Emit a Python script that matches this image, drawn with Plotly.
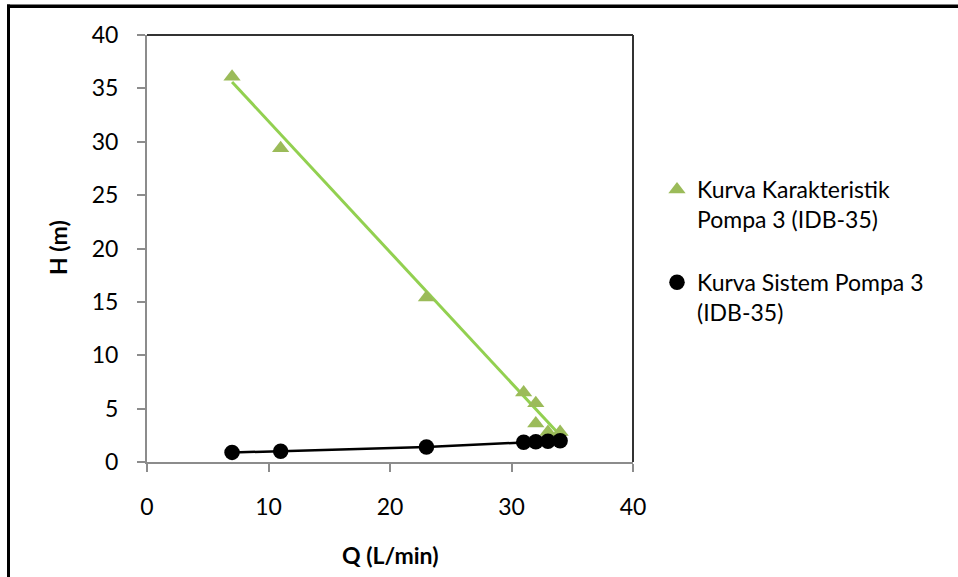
import plotly.graph_objects as go

# ---- data ----
q_pump = [7, 11, 23, 31, 32, 32, 33, 34]
h_pump = [36.1, 29.4, 15.4, 6.5, 5.5, 3.6, 2.8, 2.8]
trend_q = [7, 34]
trend_h = [35.6, 2.5]

q_sys = [7, 11, 23, 31, 32, 33, 34]
h_sys = [0.9, 1.0, 1.4, 1.85, 1.9, 1.95, 2.0]

x_ticks = [0, 10, 20, 30, 40]
y_ticks = [0, 5, 10, 15, 20, 25, 30, 35, 40]

name_pump = "Kurva Karakteristik<br>Pompa 3 (IDB-35)"
name_sys = "Kurva Sistem Pompa 3<br>(IDB-35)"

FONT = "Lato, 'Open Sans', sans-serif"
FS = 23

fig = go.Figure()
fig.add_trace(go.Scatter(x=trend_q, y=trend_h, mode="lines",
                         line=dict(color="#92D050", width=3),
                         showlegend=False, hoverinfo="skip"))
fig.add_trace(go.Scatter(x=q_sys, y=h_sys, mode="lines",
                         line=dict(color="black", width=2.5),
                         showlegend=False, hoverinfo="skip"))
fig.add_trace(go.Scatter(x=q_pump, y=h_pump, mode="markers", name=name_pump,
                         legendgroup="a", legendrank=1,
                         marker=dict(symbol="triangle-up", size=15, color="#9BBB59")))
fig.add_trace(go.Scatter(x=q_sys, y=h_sys, mode="markers", name=name_sys,
                         legendgroup="b", legendrank=2,
                         marker=dict(symbol="circle", size=15.5, color="black")))

axis_common = dict(showgrid=False, zeroline=False, showline=True,
                   linecolor="#8c8c8c", linewidth=2, ticks="outside",
                   ticklen=8, tickcolor="#8c8c8c", tickwidth=1.5,
                   tickfont=dict(family=FONT, size=FS, color="black"))

fig.update_xaxes(range=[0, 40], tickvals=x_ticks, ticklabelstandoff=15, **axis_common)
fig.update_yaxes(range=[0, 40], tickvals=y_ticks, ticklabelstandoff=14, **axis_common)

W, H = 958, 577
L, R, T, B = 147, 325, 35, 115
pw, ph = W - L - R, H - T - B

def px(xp):
    return (xp - L) / pw

def py(yp):
    return (H - B - yp) / ph

shapes = [
    # plot area top & right border
    dict(type="line", xref="paper", yref="paper", x0=0, x1=1, y0=1, y1=1,
         line=dict(color="#333333", width=2)),
    dict(type="line", xref="paper", yref="paper", x0=1, x1=1, y0=0, y1=1,
         line=dict(color="#333333", width=2)),
    # outer chart frame: left edge
    dict(type="rect", xref="paper", yref="paper", layer="above",
         x0=px(7), x1=px(10), y0=py(H), y1=py(4.5),
         line=dict(width=0), fillcolor="black"),
    # outer chart frame: top edge (two pieces)
    dict(type="line", xref="paper", yref="paper", layer="above",
         x0=0, x1=px(W), y0=py(6), y1=py(6),
         line=dict(color="black", width=3)),
    dict(type="line", xref="paper", yref="paper", layer="above",
         x0=px(7), x1=0, y0=py(6), y1=py(6),
         line=dict(color="black", width=3)),
]

annotations = [
    dict(text="<b>Q (L/min)</b>", xref="paper", yref="paper", x=px(390), y=py(555),
         showarrow=False, font=dict(family=FONT, size=FS, color="black"),
         xanchor="center", yanchor="middle"),
    dict(text="<b>H (m)</b>", xref="paper", yref="paper", x=px(58), y=py(248),
         showarrow=False, textangle=-90, font=dict(family=FONT, size=FS, color="black"),
         xanchor="center", yanchor="middle"),
    # top frame strip as a backup
    dict(text=" ", xref="paper", yref="paper", x=px(7), y=py(4.5),
         xanchor="left", yanchor="top", width=W, height=3, bgcolor="black",
         borderpad=0, borderwidth=0, showarrow=False, font=dict(size=1)),
]

fig.update_layout(
    width=W, height=H,
    margin=dict(l=L, r=R, t=T, b=B, autoexpand=False),
    paper_bgcolor="white", plot_bgcolor="white",
    font=dict(family=FONT, size=FS, color="black"),
    showlegend=True,
    legend=dict(xref="container", yref="container", x=657 / W, y=1 - 168 / H,
                xanchor="left", yanchor="top", valign="top",
                font=dict(family=FONT, size=FS, color="black"),
                tracegroupgap=30, traceorder="grouped",
                bgcolor="rgba(0,0,0,0)", borderwidth=0),
    shapes=shapes, annotations=annotations,
)

fig.write_html("out.html", config={"displayModeBar": False},
               post_script="document.body.style.margin='0';")
